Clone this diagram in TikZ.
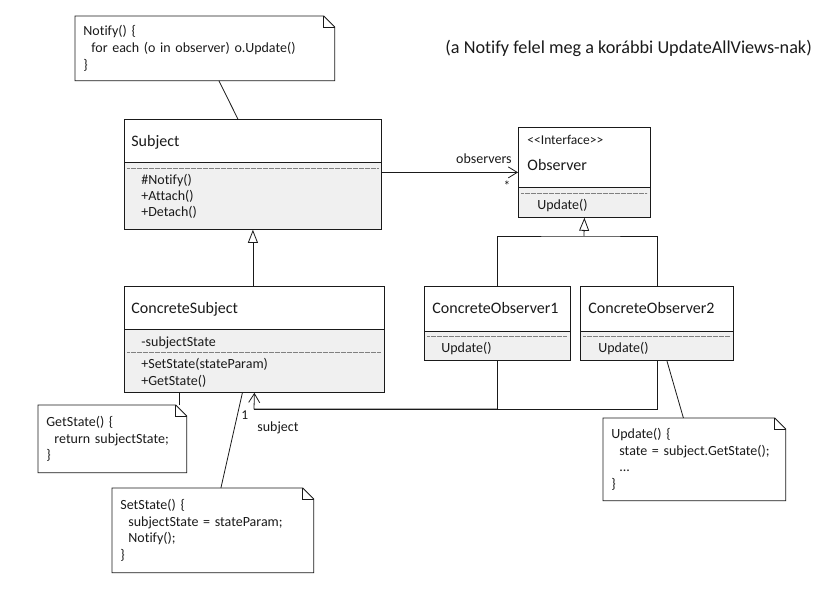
\documentclass[tikz,border=0pt]{standalone}
\usepackage{fontspec}
\setmainfont{Carlito}[Ligatures={NoCommon}]
\usetikzlibrary{arrows.meta}

\definecolor{boxfill}{HTML}{F0F0F0}
\definecolor{ink}{HTML}{1A1A1A}
\newcommand{\cls}[6]{% name, x, y, width, height, compartment line
  \fill[boxfill] (#2,#3+#6) rectangle (#2+#4,#3+#5);
  \draw (#2,#3+#6) -- (#2+#4,#3+#6);
  \node[draw, anchor=north west, minimum width=#4, minimum height=#5] (#1) at (#2,#3) {};}
\newcommand{\dotsep}[3]{\draw[sepline] (#1+3,#3) -- (#2-3,#3);}
\newcommand{\umlnote}[6]{% name, x, y, width, height, text
  \pgfmathsetmacro\notew{#4-16}
  \node[notetext, anchor=north west, text width=\notew pt, minimum height=#5] (#1) at (#2,#3) {#6};
  \draw (#1.north west) -- ([xshift=-11pt]#1.north east) -- ([yshift=-11pt]#1.north east)
    -- (#1.south east) -- (#1.south west) -- cycle;
  \draw ([xshift=-11pt]#1.north east) |- ([yshift=-11pt]#1.north east);}

\begin{document}
\begin{tikzpicture}[x=1pt, y=-1pt, line width=0.8pt, draw=ink, text=ink,
    clsname/.style={anchor=base west, inner sep=0, font=\fontsize{16}{18}\selectfont},
    member/.style={anchor=base west, inner sep=0, font=\fontsize{14}{16.5}\selectfont},
    small/.style={inner sep=0, font=\fontsize{13.5}{15}\selectfont},
    notetext/.style={inner xsep=8pt, inner ysep=0pt, align=left, font=\fontsize{14}{16.8}\selectfont},
    sepline/.style={line width=0.4pt, gray, dash pattern=on 0.6pt off 0.6pt},
    inherit/.style={-{Triangle[open, length=13pt, width=10pt]}},
    assoc/.style={-{Straight Barb[length=9pt, width=11pt]}}]
  \useasboundingbox (0,0) rectangle (826,612);

  \node[anchor=base west, inner sep=0, font=\fontsize{18.2}{20}\selectfont] (remark) at (445,54)
    {(a Notify felel meg a korábbi UpdateAllViews-nak)};

  \cls{subject}{124}{119}{257}{110}{43}
  \dotsep{124}{381}{168}
  \node[clsname] (subject-name) at (131,147) {Subject};
  \foreach \op [count=\i from 0] in {\#Notify(), +Attach(), +Detach()}
    \node[member] (subject-op\i) at (141,185+16*\i) {\op};

  \cls{observer}{518}{127}{132}{90}{60}
  \dotsep{518}{650}{193}
  \node[small, anchor=base west] (observer-st) at (527,145) {{<}{<}Interface{>}{>}};
  \node[clsname] (observer-name) at (527,171) {Observer};
  \node[member] (observer-op) at (537,210) {Update()};

  \cls{csubject}{124}{286}{260}{106}{43}
  \dotsep{124}{384}{352}
  \node[clsname] (csubject-name) at (131,313) {ConcreteSubject};
  \node[member] (csubject-attr) at (141,346) {-subjectState};
  \foreach \op [count=\i from 0] in {+SetState(stateParam), +GetState()}
    \node[member] (csubject-op\i) at (141,368+17*\i) {\op};

  \cls{cobs1}{424}{286}{146}{74}{45}
  \dotsep{424}{570}{336}
  \node[clsname] (cobs1-name) at (432,313) {ConcreteObserver1};
  \node[member] (cobs1-op) at (441,352) {Update()};

  \cls{cobs2}{580}{286}{153}{74}{45}
  \dotsep{580}{733}{336}
  \node[clsname] (cobs2-name) at (588,313) {ConcreteObserver2};
  \node[member] (cobs2-op) at (598,352) {Update()};

  \umlnote{notifynote}{75}{16}{259}{64}{Notify() \{\\\hspace*{8pt}for each (o in observer) o.Update()\\\}}
  \umlnote{getnote}{38}{405}{148}{67}{GetState() \{\\\hspace*{8pt}return subjectState;\\\}}
  \umlnote{setnote}{112}{488}{201}{84}{SetState() \{\\\hspace*{8pt}subjectState = stateParam;\\\hspace*{8pt}Notify();\\\}}
  \umlnote{updatenote}{603}{418}{182}{82}{Update() \{\\\hspace*{8pt}state = subject.GetState();\\\hspace*{8pt}...\\\}}

  \draw[inherit] (subject.south |- csubject.north) -- (subject.south);
  \draw[assoc] (subject.east |- observer.west) -- (observer.west)
    node[member, anchor=base east, pos=1, xshift=-6pt, yshift=9pt] (obs-role) {observers}
    node[small, anchor=center, pos=1, xshift=-11pt, yshift=-13pt] (obs-mult) {*};

  \coordinate (obsbar) at (584,236);
  \draw (cobs1.north) |- (obsbar) -| (cobs2.north);
  \draw[inherit] (obsbar) -- (observer.south);

  \coordinate (subjbar) at (254,409);
  \draw (cobs2.south) |- (subjbar);
  \draw[assoc] (cobs1.south) |- (subjbar) -- (csubject.south);
  \node[small, anchor=base west] (subj-mult) at (241,419) {1};
  \node[member] (subj-role) at (257,431) {subject};

  \draw ([xshift=14pt]notifynote.south) -- ([xshift=-15pt]subject.north);
  \draw ([xshift=67pt]getnote.north) -- ([xshift=67pt]getnote.north |- csubject.south);
  \draw ([xshift=8pt]setnote.north) -- ([xshift=-12pt]csubject.south);
  \draw ([xshift=-11pt]updatenote.north) -- ([xshift=10pt]cobs2.south);
\end{tikzpicture}
\end{document}
